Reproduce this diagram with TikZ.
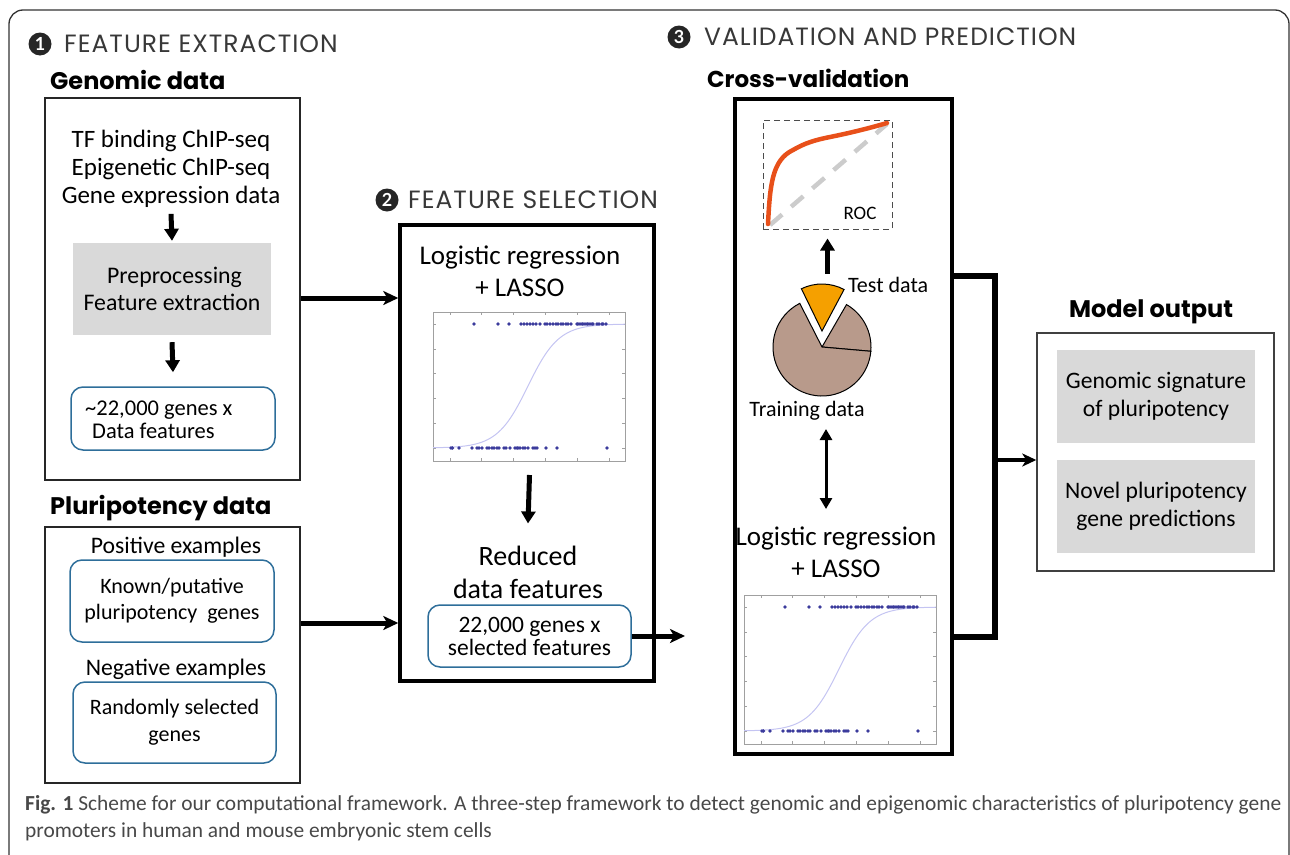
\documentclass[tikz,border=0pt]{standalone}
\usepackage{fontspec}
\setmainfont{Carlito}
\newfontfamily\latofont{Lato}
\newfontfamily\headfont{Poppins}
\newfontfamily\secfont[LetterSpace=4]{Poppins}
\usetikzlibrary{arrows.meta,calc}
\definecolor{framegray}{HTML}{333333}
\definecolor{rbblue}{HTML}{2E6E9A}
\definecolor{boxgray}{HTML}{D9D9D9}
\definecolor{pietan}{HTML}{B89A8B}
\definecolor{pieorange}{HTML}{F5A000}
\definecolor{rocred}{HTML}{E8501A}
\definecolor{dotblue}{HTML}{3B3B9C}
\definecolor{sigblue}{HTML}{C4C4F2}
\definecolor{capgray}{HTML}{484848}
\definecolor{plotframe}{HTML}{A0A0A0}
\tikzset{
  sectxt/.style={anchor=west, inner sep=0pt, text=black!78, font=\secfont\fontsize{25}{28}\selectfont},
  secnum/.style={circle, fill=black!85, text=white, inner sep=0pt, minimum size=23pt, font=\latofont\bfseries\fontsize{18}{18}\selectfont},
  headtxt/.style={inner sep=0pt, font=\headfont\bfseries\fontsize{24}{30}\selectfont},
  bigtxt/.style={inner sep=0pt, align=center, font=\fontsize{27}{32}\selectfont},
  midtxt/.style={inner sep=0pt, align=center, font=\fontsize{23.7}{27}\selectfont},
  smalltxt/.style={inner sep=0pt, align=center, font=\fontsize{22}{24}\selectfont},
  thinbox/.style={draw=black!85, line width=1.5pt, inner sep=0pt},
  thickbox/.style={draw=black, line width=3.5pt, inner sep=0pt},
  graybox/.style={fill=boxgray, inner sep=0pt, align=center, font=\fontsize{23.6}{28}\selectfont},
  rbox/.style={draw=rbblue, line width=1.5pt, rounded corners=12pt, align=center, inner sep=0pt, font=\fontsize{22}{24}\selectfont},
  darr/.style={line width=5pt, -{Triangle[length=12pt, width=14pt]}},
  harr/.style={line width=5pt, -{Stealth[length=15pt, width=14pt, inset=4pt]}},
  dblarr/.style={line width=3pt, {Triangle[length=11pt, width=12pt]}-{Triangle[length=11pt, width=12pt]}},
  conn/.style={line width=5.5pt},
  lrplot/.pic={
    \node[draw=plotframe, line width=1pt, minimum width=192pt, minimum height=149pt, anchor=north west, inner sep=0pt] (-frame) at (0,0) {};
    \foreach \t in {17,48,80,112,144,176} {
      \draw[plotframe, line width=0.7pt] (\t,149) -- (\t,146);
      \draw[plotframe, line width=0.7pt] (\t,0) -- (\t,3);
    }
    \foreach \t in {12,37,61,86,111,136} {
      \draw[plotframe, line width=0.7pt] (0,\t) -- (3,\t);
      \draw[plotframe, line width=0.7pt] (192,\t) -- (189,\t);
    }
    \draw[sigblue, line width=1pt] plot[domain=0:192, samples=100] (\x, {136-124/(1+exp(-0.065*(\x-95)))});
    \foreach \d in {41,65,76,88,91,94,97,100,103,107,112,114,117,120,123,125,128,130,133,135,138,144,145,147,149,150,152,154,155,157,159,160,164,166,169,170,173}
      \fill[dotblue] (\d,12) circle[radius=1.8pt];
    \foreach \d in {18,19.5,26,39,44,46,49,54,56,59,61,64,66,71,73,77,82,84,85,87,90,92,95,100,102,104,113,124,174}
      \fill[dotblue] (\d,136) circle[radius=1.8pt];
  }
}
\begin{document}
\begin{tikzpicture}[x=1pt,y=-1pt]
\useasboundingbox (0,0) rectangle (1290,854);
% outer frame
\draw[framegray, line width=1.3pt, rounded corners=14pt] (9,860) -- (9,10) -- (1289,10) -- (1289,860);

% ---------- section 1
\node[secnum] (n1) at (40,44) {1};
\node[sectxt] (s1) at (64,44) {FEATURE EXTRACTION};
\node[headtxt, anchor=west] (genh) at (50,80) {Genomic data};
\node[thinbox, minimum width=255pt, minimum height=382pt] (genbox) at (172.5,289) {};
\node[bigtxt, font=\fontsize{25}{28}\selectfont] (gentxt) at (171,169) {TF binding ChIP-seq\\Epigenetic ChIP-seq\\Gene expression data};
\node[graybox, font=\fontsize{23.8}{27}\selectfont, minimum width=198pt, minimum height=92pt] (prep) at (172,289) {\hspace*{5pt}Preprocessing\\Feature extraction};
\node[rbox, minimum width=204pt, minimum height=63pt] (gen22) at (173,418.5) {};
\node[inner sep=0pt, anchor=west, align=left, font=\fontsize{22.5}{23}\selectfont] (gen22t) at (85,419.5) {\textasciitilde 22,000 genes x\\\hspace*{7pt}Data features};
\draw[darr] ([yshift=-6pt]gentxt.south) -- ([yshift=2pt]prep.north);
\draw[darr] ([yshift=-7pt]prep.south) -- ([yshift=14pt]gen22.north);

\node[headtxt, anchor=west] (pluh) at (50,508) {Pluripotency data};
\node[thinbox, minimum width=255pt, minimum height=256pt] (plubox) at (172.5,655) {};
\node[midtxt] (postxt) at (176,547) {Positive examples};
\node[rbox, minimum width=204pt, minimum height=82pt, font=\fontsize{22}{26}\selectfont] (known) at (172,601) {Known/putative\\pluripotency\ \ genes};
\node[midtxt] (negtxt) at (176,669) {Negative examples};
\node[rbox, minimum width=203pt, minimum height=81pt, font=\fontsize{22}{27}\selectfont] (rand) at (174.5,722.5) {Randomly selected\\genes};

% ---------- section 2
\node[secnum] (n2) at (387,200) {2};
\node[sectxt] (s2) at (408,200) {FEATURE SELECTION};
\node[thickbox, minimum width=254pt, minimum height=456pt] (box2) at (527,453) {};
\node[bigtxt] (lr1) at (520,271) {Logistic regression\\+ LASSO};
\pic (p1) at (433,312) {lrplot};
\node[bigtxt, font=\fontsize{28}{33}\selectfont] (red) at (528,572) {Reduced\\data features};
\node[rbox, minimum width=203pt, minimum height=62pt, font=\fontsize{23.5}{23}\selectfont] (sel22) at (529.5,636) {22,000 genes x\\selected features};
\draw[darr] ([yshift=-13pt]p1-frame.south) -- ([yshift=22pt]red.north);
\draw[harr] (genbox.east |- 0,298) -- (box2.west |- 0,298);
\draw[harr] (plubox.east |- 0,623) -- (box2.west |- 0,623);
\coordinate (selend) at (685,636);
\draw[harr] (sel22.east) -- (selend);

% ---------- section 3
\node[secnum] (n3) at (679,37) {3};
\node[sectxt] (s3) at (704,37) {VALIDATION AND PREDICTION};
\node[headtxt, anchor=west, font=\headfont\bfseries\fontsize{23}{30}\selectfont] (cvh) at (707,78) {Cross-validation};
\node[thickbox, minimum width=217pt, minimum height=655pt] (box3) at (843.5,426.5) {};
\node[draw=black!70, dashed, dash pattern=on 6pt off 4pt, line width=1pt, minimum width=129pt, minimum height=109pt, inner sep=0pt] (roc) at (827.5,174.5) {};
\draw[black!20, line width=4.5pt, dash pattern=on 16pt off 12pt] (770,225) -- (887,124);
\draw[rocred, line width=4.5pt, line cap=round] (768,224) .. controls (770,185) and (772,160) .. (793,150) .. controls (805,143) and (815,140) .. (830,137) .. controls (850,133) and (870,128) .. (887,123);
\node[smalltxt, font=\fontsize{19}{20}\selectfont] (roclbl) at (860,213) {ROC};
\coordinate (pie) at (822,347);
\filldraw[fill=pietan, draw=black, line width=1pt] (pie) -- ++(5:49) arc[start angle=5, end angle=-60, radius=49] -- cycle;
\filldraw[fill=pietan, draw=black, line width=1pt] (pie) -- ++(-117:49) arc[start angle=-117, end angle=-355, radius=49] -- cycle;
\coordinate (piex) at (822,331);
\filldraw[fill=pieorange, draw=black, line width=1pt] (piex) -- ++(-62:47) arc[start angle=-62, end angle=-116, radius=47] -- cycle;
\node[smalltxt, anchor=west] (testlbl) at (848,285) {Test data};
\node[smalltxt] (trainlbl) at (807,411) {Training data};
\draw[darr, line width=5pt] ([yshift=-44pt]roc.south) -- ([yshift=-9pt]roc.south);
\coordinate (dbltop) at (826,429);
\coordinate (dblbot) at (826,509);
\draw[dblarr] (dbltop) -- (dblbot);
\node[bigtxt] (lr2) at (836,552) {Logistic regression\\+ LASSO};
\pic (p2) at (744,595) {lrplot};

% connectors to model output
\coordinate (jt) at (995,276);
\coordinate (jb) at (995,637);
\draw[conn] (box3.east |- jt) -- (jt) -- (jb) -- (box3.east |- jb);
\node[headtxt] (moh) at (1151,312) {Model output};
\node[draw=black!75, line width=1.5pt, minimum width=237pt, minimum height=238pt, inner sep=0pt] (modelbox) at (1155.5,452) {};
\node[graybox, minimum width=198pt, minimum height=93pt] (sig) at (1156,396.5) {Genomic signature\\of pluripotency};
\node[graybox, minimum width=198pt, minimum height=93pt] (novel) at (1156,506.5) {Novel pluripotency\\gene predictions};
\draw[line width=4pt, -{Stealth[length=14pt, width=13pt, inset=4pt]}] (jt |- 0,460) -- (modelbox.west |- 0,460);

% caption
\node[anchor=north west, inner sep=0pt, align=left, text=capgray, font=\fontsize{21.4}{27}\selectfont] (cap) at (25,795) {\textbf{Fig. 1} Scheme for our computational framework. A three-step framework to detect genomic and epigenomic characteristics of pluripotency gene\\promoters in human and mouse embryonic stem cells};
\end{tikzpicture}
\end{document}
